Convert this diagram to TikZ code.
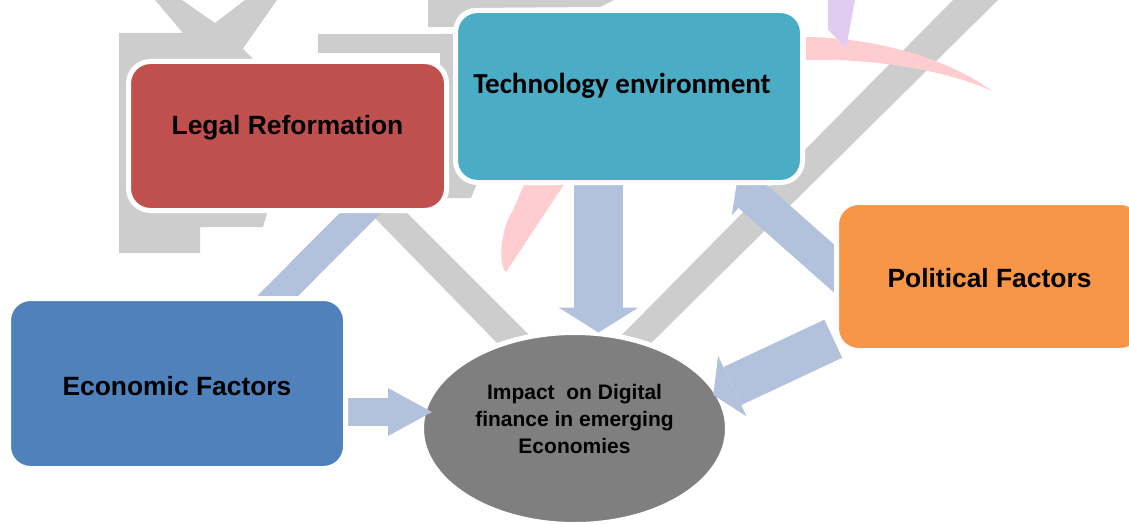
\documentclass[tikz,border=0pt]{standalone}
\usepackage{fontspec}
\setmainfont{Liberation Sans}
\newfontfamily\calibri{Carlito}
\usetikzlibrary{arrows.meta,shapes.geometric}

\definecolor{legalred}{HTML}{C0504D}
\definecolor{techteal}{HTML}{4BACC6}
\definecolor{politicorange}{HTML}{F79646}
\definecolor{econblue}{HTML}{4F81BD}
\definecolor{hubgray}{HTML}{7F7F7F}
\definecolor{flowblue}{HTML}{B2C2DD}
\definecolor{markgray}{HTML}{CDCDCD}
\definecolor{markpink}{HTML}{FFCDD0}
\definecolor{marklilac}{HTML}{E0CCEF}

\pgfdeclarelayer{marks}
\pgfdeclarelayer{hub}
\pgfdeclarelayer{links}
\pgfsetlayers{marks,hub,links,main}

\begin{document}
\begin{tikzpicture}[x=1pt,y=-1pt]

\tikzset{factor/.style={rectangle, rounded corners=22pt, draw=white, line width=5pt, inner sep=0pt, outer sep=0pt,
  font=\bfseries\fontsize{26.4}{30}\selectfont},
flow/.style n args={3}{draw=flowblue, line width=#1, -{Triangle[width=#2, length=#3, line width=0pt]}},
%the watermark behind everything
logomark/.style={fill=markgray, draw=none}}

\useasboundingbox (0,0) rectangle (1129,524);

\node[factor, fill=legalred, minimum width=318pt, text height=73.5pt, text depth=75.5pt] (legal) at (287.5,136) {Legal Reformation};
\node[factor, fill=techteal, minimum width=347pt, text height=83.5pt, text depth=88.5pt,
  font=\calibri\bfseries\fontsize{29}{33}\selectfont] (tech) at (629,96.5) {Technology environment\hspace*{14pt}};
\node[factor, fill=politicorange, minimum width=306pt, text height=84.5pt, text depth=63.5pt] (political) at (989.5,276.5) {Political Factors};
\node[factor, fill=econblue, minimum width=337pt, text height=96.8pt, text depth=73.2pt] (econ) at (177,383.5) {Economic Factors};

\begin{pgfonlayer}{hub}
\node[ellipse, fill=hubgray, draw=white, line width=5pt, minimum width=306pt, minimum height=192pt, inner sep=0pt, outer sep=0pt] (impact) at (574.5,428.5) {};
\end{pgfonlayer}
\node[font=\bfseries\fontsize{21}{27}\selectfont, align=center] (impact-text) at ([yshift=10pt]impact.center)
  {Impact\ \ on Digital\\finance in emerging\\Economies};

\begin{pgfonlayer}{links}
\draw[flow={28pt}{48pt}{44pt}] ([xshift=-5.5pt,yshift=-28.5pt]econ.east) -- ([xshift=10.5pt,yshift=16.5pt]impact.west);
\draw[flow={49pt}{80pt}{25pt}] ([xshift=-30.5pt,yshift=7.5pt]tech.south) -- ([xshift=24pt]impact.north);
\draw[flow={29pt}{46pt}{30pt}] ([xshift=91.2pt,yshift=-6.9pt]econ.north) -- ([xshift=110.1pt,yshift=34.9pt]legal.south);
\draw[flow={36pt}{56pt}{18pt}] ([xshift=23.5pt,yshift=-15.1pt]political.west) -- ([xshift=-65.6pt]tech.south east);
\draw[flow={42pt}{67pt}{21pt}] ([xshift=-3.2pt,yshift=11.8pt]political.south west) -- ([xshift=-14.2pt,yshift=33.5pt]impact.east);
\end{pgfonlayer}

\begin{pgfonlayer}{marks}
\fill[logomark] (155,0) -- (182,0) -- (215,23) -- (245,0) -- (277,0) -- (237,57) -- (300,150) -- (267,213) -- (263,227)
  -- (200,227) -- (200,253) -- (119,253) -- (119,33) -- (183,33) -- cycle;
\fill[logomark] (201,40) -- (234,40) -- (544,350) -- (513.6,360) -- cycle;
\fill[logomark] (953,0) -- (998,0) -- (636,358) -- (599,358) -- cycle;
\fill[logomark] (318,34) rectangle (456,53);
\fill[logomark] (440,34) -- (456,34) -- (456,173) -- (478,181) -- (471,198) -- (440,198) -- cycle;
\fill[logomark] (428,0) -- (614,0) -- (600,7) -- (472,8) .. controls (458,12) and (455,20) .. (455,27) -- (428,27) -- cycle;
\fill[markpink] (806,37) .. controls (880,38) and (950,60) .. (992,91) .. controls (950,72) and (880,58) .. (806,60) -- cycle;
\fill[markpink] (526,180) -- (567,180) -- (506,272) .. controls (498,265) and (500,230) .. (513,210) -- cycle;
\fill[marklilac] (828,0) -- (855,0) -- (846,48) -- (828,30) -- cycle;
\end{pgfonlayer}

\end{tikzpicture}
\end{document}
